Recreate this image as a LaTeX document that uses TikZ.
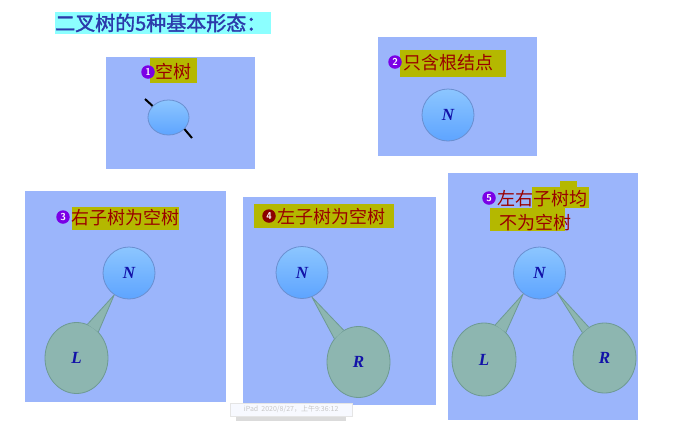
\documentclass[tikz,border=0pt]{standalone}
\usepackage{fontspec}
\setmainfont{Liberation Serif}
\newfontfamily\cjk{Noto Sans CJK SC}
\newfontfamily\cjkb[FakeBold=1.6]{Noto Sans CJK SC}
\usetikzlibrary{shapes.geometric}
\definecolor{panelc}{HTML}{9BB5FB}
\definecolor{nodetop}{HTML}{8CC6FF}
\definecolor{nodebot}{HTML}{5EA4FF}
\definecolor{nodeedge}{HTML}{6A8FD0}
\definecolor{subfill}{HTML}{8DB6B0}
\definecolor{subedge}{HTML}{6E9A93}
\definecolor{hilitec}{HTML}{B4B800}
\definecolor{labred}{HTML}{990000}
\definecolor{numpurple}{HTML}{7A00E6}
\definecolor{numred}{HTML}{8B0000}
\definecolor{titlecyan}{HTML}{8CFFFF}
\definecolor{titleblue}{HTML}{2B3AAB}
\definecolor{letterblue}{HTML}{1212A8}
\tikzset{
  panel/.style={fill=panelc, draw=none},
  rootn/.style={circle, minimum size=52pt, inner sep=0pt, top color=nodetop, bottom color=nodebot, draw=nodeedge, line width=0.8pt, text=letterblue, font=\bfseries\itshape\fontsize{17}{17}\selectfont},
  subn/.style={ellipse, minimum width=63pt, minimum height=71pt, inner sep=0pt, fill=subfill, draw=subedge, line width=0.8pt, text=letterblue, font=\bfseries\itshape\fontsize{17}{17}\selectfont},
  wedge/.style={fill=subfill, draw=subedge, line width=0.8pt, line join=round},
  hilite/.style={fill=hilitec, draw=none},
  lab/.style={anchor=west, inner sep=0pt, text=labred, font=\cjk\fontsize{18}{18}\selectfont},
  numc/.style={circle, inner sep=0pt, minimum size=13.5pt, fill=numpurple, text=white, font=\sffamily\bfseries\fontsize{10}{10}\selectfont},
  stub/.style={line width=2pt, black}
}
\begin{document}
\begin{tikzpicture}[x=1pt,y=-1pt]
\fill[white] (0,0) rectangle (681,421);
\useasboundingbox (0,0) rectangle (681,421);
% title
\fill[titlecyan] (55,12) rectangle (271,34);
\node[anchor=west, inner sep=0pt, text=titleblue, font=\cjkb\fontsize{20}{20}\selectfont] (title) at (55,23) {二叉树的5种基本形态：};
% panels
\fill[panel] (106,57) rectangle (255,169);
\fill[panel] (378,37) rectangle (537,156);
\fill[panel] (25,191) rectangle (226,402);
\fill[panel] (243,197) rectangle (436,405);
\fill[panel] (448,173) rectangle (638,420);
% highlights
\fill[hilite] (150,58) rectangle (197,83);
\fill[hilite] (400,50) rectangle (506,77);
\fill[hilite] (72,207) rectangle (179,230);
\fill[hilite] (254,204) rectangle (394,228);
\fill[hilite] (532,187) rectangle (589,208);
\fill[hilite] (560,181) rectangle (577,190);
\fill[hilite] (490,208) rectangle (565,231);
% labels
\node[numc] (n1) at (148,72) {1};
\node[lab] (l1) at (155,72) {空树};
\node[numc] (n2) at (395,62) {2};
\node[lab] (l2) at (403,63) {只含根结点};
\node[numc] (n3) at (63,217) {3};
\node[lab] (l3) at (71,218) {右子树为空树};
\node[numc, fill=numred] (n4) at (269,216) {4};
\node[lab] (l4) at (277,217) {左子树为空树};
\node[numc] (n5) at (489,198) {5};
\node[lab] (l5a) at (497,199) {左右子树均};
\node[lab] (l5b) at (499,223) {不为空树};
% panel 1: empty tree
\node[ellipse, minimum width=41pt, minimum height=35pt, inner sep=0pt, top color=nodetop, bottom color=nodebot, draw=nodeedge, line width=0.8pt] (e1) at (168.5,117.5) {};
\coordinate (s1a) at (145,99);
\coordinate (s1b) at (192,138);
\draw[stub] (s1a) -- (e1.144);
\draw[stub] (e1.-36) -- (s1b);
% panel 2
\node[rootn] (N2) at (448,115) {N};
% panel 3
\node[subn] (L3) at (76.5,358) {L};
\node[rootn] (N3) at (129,273) {N};
\filldraw[wedge] (L3.72) -- (N3.236) -- (L3.50);
% panel 4
\node[subn] (R4) at (358.5,362) {R};
\node[rootn] (N4) at (302,272.5) {N};
\filldraw[wedge] (R4.115) -- (N4.292) -- (R4.136);
% panel 5
\node[subn, minimum width=64pt, minimum height=73pt] (L5) at (484,359.5) {L};
\node[subn, minimum height=70pt] (R5) at (604.5,358) {R};
\node[rootn] (N5) at (539.5,273) {N};
\filldraw[wedge] (L5.72) -- (N5.232) -- (L5.51);
\filldraw[wedge] (R5.117) -- (N5.312) -- (R5.131);
% tooltip
\fill[gray!28] (236,415) rectangle (346,421);
\node[anchor=south west, minimum width=122pt, minimum height=13pt, inner sep=0pt, fill=white!92!panelc, draw=black!10, text=black!22, font=\cjk\fontsize{7}{7}\selectfont] (tip) at (230,416) {iPad\ \ 2020/8/27，上午9:36:12};
\end{tikzpicture}
\end{document}
